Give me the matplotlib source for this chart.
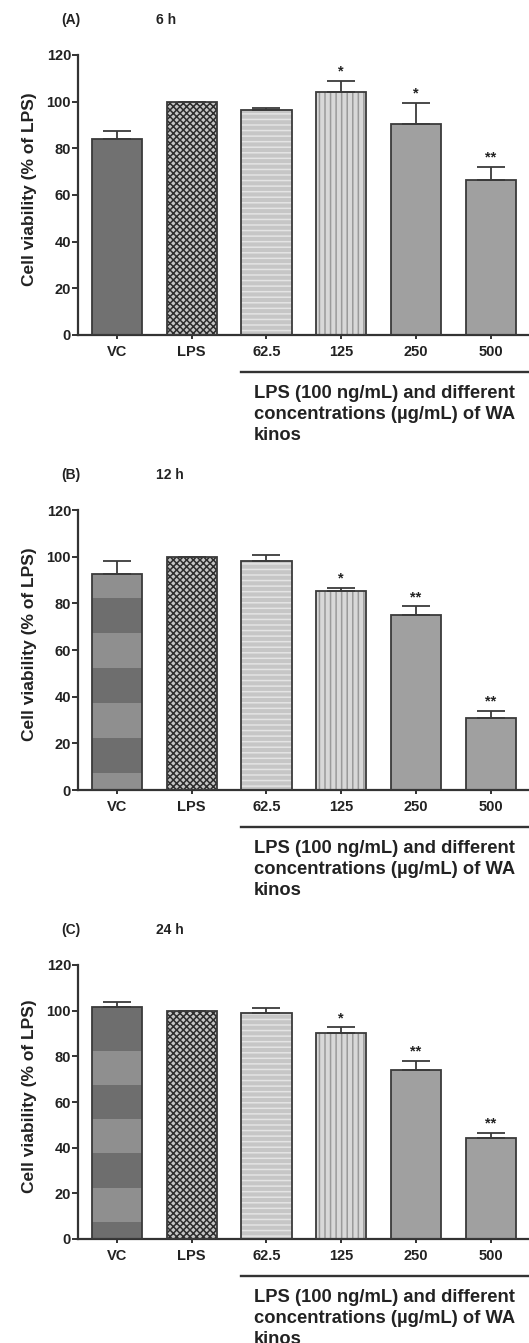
import numpy as np
import matplotlib
matplotlib.use('Agg')
import matplotlib.pyplot as plt
from matplotlib.patches import Rectangle

plt.rcParams['font.family'] = ['Liberation Sans', 'DejaVu Sans']
plt.rcParams['font.weight'] = 'bold'
plt.rcParams['hatch.linewidth'] = 1.1

# 数据
groups = ['VC', 'LPS', '62.5', '125', '250', '500']
panel_tags = ['(A)', '(B)', '(C)']
panel_times = ['6 h', '12 h', '24 h']

viab_6h = [84, 100, 96.5, 104, 90.5, 66.3]
err_6h = [3.6, 0, 1.0, 4.8, 8.8, 5.7]
sig_6h = ['', '', '', '*', '*', '**']

viab_12h = [92.6, 100, 98.3, 85.3, 75.0, 30.7]
err_12h = [5.4, 0, 2.6, 1.2, 3.7, 3.3]
sig_12h = ['', '', '', '*', '**', '**']

viab_24h = [101.8, 100, 98.8, 90.1, 74.0, 44.1]
err_24h = [2.2, 0, 2.2, 2.6, 4.0, 2.3]
sig_24h = ['', '', '', '*', '**', '**']

xlabel_txt = 'LPS (100 ng/mL) and different\nconcentrations (\u00b5g/mL) of WA\nkinos'
ylabel_txt = 'Cell viability (% of LPS)'

# 每组柱子的填充样式
fills = ['#717171', '#c4c4c4', '#c6c6c6', '#d8d8d8', '#a0a0a0', '#a0a0a0']
hatches = [None, 'xxxxx', '---', '|||', None, None]
hatch_cols = [None, '#2c2c2c', '#e4e4e4', '#9a9a9a', None, None]
edge_col = '#3a3a3a'
text_col = '#222222'

W, H = 529, 1343
fig = plt.figure(figsize=(W / 100, H / 100), dpi=100)


def px_box(left, right, top, bottom):
    return [left / W, 1 - bottom / H, (right - left) / W, (bottom - top) / H]


def draw_panel(top, zero, vals, errs, sigs, tag, tlabel, banded, band_start_dark):
    ax = fig.add_axes(px_box(78, 529, top, zero))
    x = np.arange(len(groups))
    ax.bar(x, vals, width=0.67, color=fills, edgecolor='none', zorder=1)
    for i, v in enumerate(vals):
        if hatches[i]:
            ax.bar(x[i], v, width=0.67, color='none', edgecolor=hatch_cols[i],
                   linewidth=0, hatch=hatches[i], zorder=2)
    # VC 柱子的横向条带
    if banded:
        bounds = [0, 7.5, 22.5, 37.5, 52.5, 67.5, 82.5, 120]
        clip = Rectangle((x[0] - 0.335, 0), 0.67, vals[0], transform=ax.transData)
        for k in range(len(bounds) - 1):
            dark = (k % 2 == 0) == band_start_dark
            c = '#6e6e6e' if dark else '#8f8f8f'
            r = ax.axhspan(bounds[k], bounds[k + 1], color=c, lw=0, zorder=1.5)
            r.set_clip_path(clip)
    ax.bar(x, vals, width=0.67, color='none', edgecolor=edge_col, linewidth=1.3, zorder=3)
    ax.errorbar(x, vals, yerr=[np.zeros(len(vals)), errs], fmt='none',
                ecolor=edge_col, elinewidth=1.3, capsize=10, capthick=1.3, zorder=4)
    for i, s in enumerate(sigs):
        if s:
            ax.text(x[i], vals[i] + errs[i] + 1.0, s, ha='center', va='bottom',
                    fontsize=10.5, color=text_col)

    ax.set_ylim(0, 120)
    ax.set_xlim(-0.52, 5.51)
    ax.set_yticks(np.arange(0, 121, 20))
    ax.set_xticks(x)
    ax.set_xticklabels(groups)
    ax.tick_params(axis='both', labelsize=10.5, colors=text_col, width=1.3)
    ax.tick_params(axis='y', length=4, pad=1)
    ax.tick_params(axis='x', length=3, pad=4)
    for side in ['top', 'right']:
        ax.spines[side].set_visible(False)
    for side in ['left', 'bottom']:
        ax.spines[side].set_linewidth(1.6)
        ax.spines[side].set_color('#333333')

    ax.set_ylabel(ylabel_txt, fontsize=12.5, fontweight='bold', color=text_col)
    ax.yaxis.set_label_coords(-0.092, 0.52)

    # 分组标注线和说明
    h = zero - top
    xt = ax.get_xaxis_transform()
    ax.plot([1.665, 5.51], [-37 / h, -37 / h], color='#333333', lw=1.7,
            clip_on=False, transform=xt)
    ax.text(1.83, -50 / h, xlabel_txt, transform=xt, ha='left', va='top',
            fontsize=13.2, linespacing=1.32, color=text_col)

    fig.text(61 / W, 1 - (top - 35) / H, tag, fontsize=10, ha='left', va='center',
             color=text_col)
    fig.text(156 / W, 1 - (top - 35) / H, tlabel, fontsize=10, ha='left', va='center',
             color=text_col)
    return ax


draw_panel(55, 335, viab_6h, err_6h, sig_6h, panel_tags[0], panel_times[0], False, True)
draw_panel(510, 790, viab_12h, err_12h, sig_12h, panel_tags[1], panel_times[1], True, False)
draw_panel(965, 1239, viab_24h, err_24h, sig_24h, panel_tags[2], panel_times[2], True, True)

plt.savefig('out.png', dpi=100)
